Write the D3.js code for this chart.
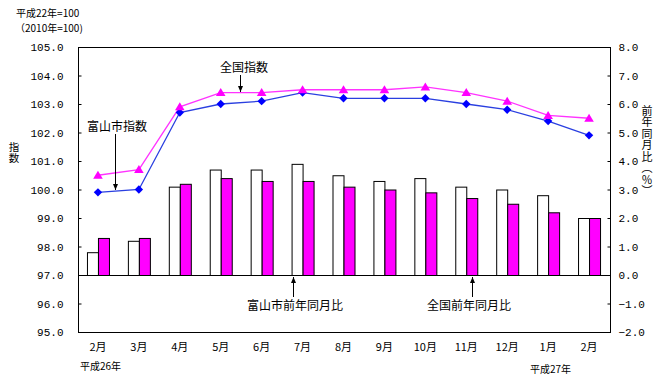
<!DOCTYPE html>
<html><head><meta charset="utf-8">
<script src="https://cdn.jsdelivr.net/npm/d3@7/dist/d3.min.js"></script>
<style>
body{margin:0;background:#fff}
text{font-family:"Noto Sans CJK JP","Noto Sans",sans-serif;fill:#000}
</style>
</head><body>
<svg id="c" width="665" height="379"></svg>
<script>
// ---- data ----
const months = ["2月","3月","4月","5月","6月","7月","8月","9月","10月","11月","12月","1月","2月"];
const toyamaIndex   = [99.9,100.0,102.7,103.0,103.1,103.4,103.2,103.2,103.2,103.0,102.8,102.4,101.9];
const nationalIndex = [100.5,100.7,102.9,103.4,103.4,103.5,103.5,103.5,103.6,103.4,103.1,102.6,102.5];
const toyamaYoY     = [0.8,1.2,3.1,3.7,3.7,3.9,3.5,3.3,3.4,3.1,3.0,2.8,2.0];
const nationalYoY   = [1.3,1.3,3.2,3.4,3.3,3.3,3.1,3.0,2.9,2.7,2.5,2.2,2.0];
const leftTicks  = [95,96,97,98,99,100,101,102,103,104,105];
const rightTicks = [-2,-1,0,1,2,3,4,5,6,7,8];

// ---- layout ----
const L = 78, R = 610, T = 47, B = 332;
const svg = d3.select("#c");
const x = d3.scaleBand().domain(d3.range(months.length)).range([L, R]).padding(0);
const yL = d3.scaleLinear().domain([95,105]).range([B, T]);
const yR = d3.scaleLinear().domain([-2,8]).range([B, T]);
const cx = i => x(i) + x.bandwidth()/2 - 0.5;
const bw = 11;

// frame
svg.append("rect").attr("x",L+0.5).attr("y",T+0.5).attr("width",R-L).attr("height",B-T)
  .attr("fill","none").attr("stroke","#000").attr("stroke-width",1);

// axes
const axL = d3.axisLeft(yL).tickValues(leftTicks).tickFormat(d3.format(".1f")).tickSizeInner(-3).tickSizeOuter(0).tickPadding(15);
const gL = svg.append("g").attr("transform",`translate(${L+0.5},0)`).call(axL);
const axR = d3.axisRight(yR).tickValues(rightTicks).tickFormat(d3.format(".1f")).tickSizeInner(-3).tickSizeOuter(0).tickPadding(8);
const gR = svg.append("g").attr("transform",`translate(${R+0.5},0)`).call(axR);
[gL,gR].forEach(g=>{
  g.select(".domain").remove();
  g.selectAll("text").style("font-size","11px").style("font-family","'Liberation Mono','DejaVu Sans Mono',monospace");
  g.selectAll("line").attr("stroke","#000");
});

// bars
const bars = svg.append("g");
bars.selectAll(".bt").data(toyamaYoY).join("rect")
  .attr("x",(d,i)=>cx(i)-bw+0.5).attr("width",bw)
  .attr("y",d=>yR(d)+0.5).attr("height",d=>yR(0)-yR(d))
  .attr("fill","#fff").attr("stroke","#000").attr("stroke-width",1);
bars.selectAll(".bn").data(nationalYoY).join("rect")
  .attr("x",(d,i)=>cx(i)+0.5).attr("width",bw)
  .attr("y",d=>yR(d)+0.5).attr("height",d=>yR(0)-yR(d))
  .attr("fill","#ff00ff").attr("stroke","#000").attr("stroke-width",1);

// zero baseline
svg.append("line").attr("x1",L).attr("x2",R).attr("y1",yR(0)+0.5).attr("y2",yR(0)+0.5)
  .attr("stroke","#000").attr("stroke-width",1);

// lines
const line = d3.line().x((d,i)=>cx(i)).y(d=>yL(d));
svg.append("path").datum(toyamaIndex).attr("d",line).attr("fill","none").attr("stroke","#2a3fe0").attr("stroke-width",1.3);
svg.append("path").datum(nationalIndex).attr("d",line).attr("fill","none").attr("stroke","#ff33ff").attr("stroke-width",1.3);

// markers
svg.append("g").selectAll("path").data(toyamaIndex).join("path")
  .attr("d",(d,i)=>{const X=cx(i),Y=yL(d),r=4.2;return `M${X},${Y-r}L${X+r},${Y}L${X},${Y+r}L${X-r},${Y}Z`;})
  .attr("fill","#0000ff");
svg.append("g").selectAll("path").data(nationalIndex).join("path")
  .attr("d",(d,i)=>{const X=cx(i),Y=yL(d);return `M${X},${Y-4.5}L${X+4.8},${Y+3.5}L${X-4.8},${Y+3.5}Z`;})
  .attr("fill","#ff00ff");

// category labels
svg.append("g").selectAll("text").data(months).join("text")
  .attr("x",(d,i)=>cx(i)).attr("y",351).attr("text-anchor","middle")
  .style("font-size","11px").text(d=>d);
svg.append("text").attr("x",80).attr("y",370).style("font-size","10px").text("平成26年");
svg.append("text").attr("x",530).attr("y",373).style("font-size","10px").text("平成27年");

// top-left notes
svg.append("text").attr("x",16).attr("y",17).style("font-size","10px").text("平成22年=100");
svg.append("text").attr("x",15).attr("y",32).style("font-size","10px").text("（2010年=100)");

// vertical axis titles
svg.append("text").attr("x",14).attr("y",142)
  .style("writing-mode","vertical-rl").style("text-orientation","upright")
  .style("font-size","10.5px").text("指数");
svg.append("text").attr("x",647).attr("y",105)
  .style("writing-mode","vertical-rl").style("text-orientation","upright")
  .style("font-size","11px").style("letter-spacing","0.5px").text("前年同月比（％）");

// annotations with arrows
function arrow(x0,y0,y1){
  svg.append("line").attr("x1",x0+0.5).attr("x2",x0+0.5).attr("y1",y0).attr("y2",y1).attr("stroke","#000").attr("stroke-width",1);
  const dir = y1>y0?1:-1;
  svg.append("path").attr("d",`M${x0+0.5},${y1}L${x0+3},${y1-dir*6}L${x0-2},${y1-dir*6}Z`).attr("fill","#000");
}
svg.append("text").attr("x",244).attr("y",72).attr("text-anchor","middle").style("font-size","12px").text("全国指数");
arrow(240,75,92);
svg.append("text").attr("x",117).attr("y",131).attr("text-anchor","middle").style("font-size","12px").text("富山市指数");
arrow(115,134,190);
svg.append("text").attr("x",295).attr("y",310).attr("text-anchor","middle").style("font-size","12px").text("富山市前年同月比");
arrow(293,297,277);
svg.append("text").attr("x",469).attr("y",310).attr("text-anchor","middle").style("font-size","12px").text("全国前年同月比");
arrow(472,297,277);
</script>
</body></html>
